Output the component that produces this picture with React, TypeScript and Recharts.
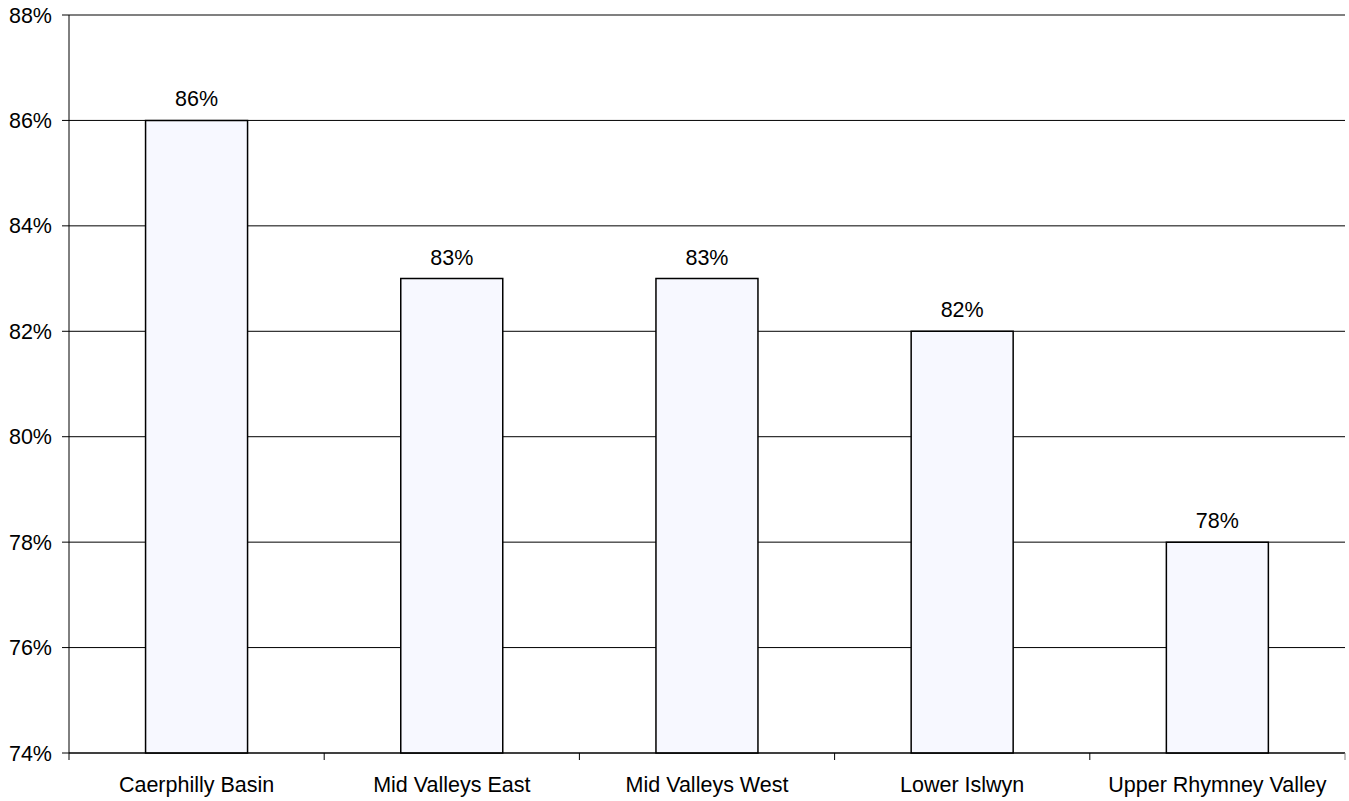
import { BarChart, Bar, CartesianGrid, XAxis, YAxis, LabelList, ReferenceLine } from 'recharts';

const areas = ['Caerphilly Basin', 'Mid Valleys East', 'Mid Valleys West', 'Lower Islwyn', 'Upper Rhymney Valley'];
const rates = [86, 83, 83, 82, 78];
const yTicks = [74, 76, 78, 80, 82, 84, 86, 88];

const data = areas.map((name, i) => ({ name, rate: rates[i] }));

const FONT = '"Liberation Sans", Arial, sans-serif';

function AreaTick(props: any) {
  const { x, y, payload, index, visibleTicksCount } = props;
  const half = payload?.offset ?? 0;
  const last = index === visibleTicksCount - 1;
  return (
    <g>
      <line x1={x - half} x2={x - half} y1={y} y2={y + 7} stroke="#000" />
      {last && <line x1={x + half} x2={x + half} y1={y} y2={y + 7} stroke="#808080" />}
      <text x={x} y={y + 39} textAnchor="middle" fontSize={21.5} fontFamily={FONT} fill="#000">
        {payload.value}
      </text>
    </g>
  );
}

export default function App() {
  return (
    <div style={{ width: 1349, height: 801, background: '#fff' }}>
      <style>{`body{margin:0}`}</style>
      <BarChart
        width={1349}
        height={801}
        data={data}
        margin={{ top: 15, right: 4, left: 0, bottom: 0 }}
        barCategoryGap="30%"
      >
        <CartesianGrid vertical={false} stroke="#000" />
        <XAxis
          dataKey="name"
          stroke="#000"
          tickLine={false}
          tickSize={0}
          tickMargin={0}
          height={48}
          interval={0}
          tick={<AreaTick />}
        />
        <YAxis
          domain={[74, 88]}
          ticks={yTicks}
          width={69}
          stroke="#000"
          tickSize={7}
          tickMargin={10}
          tickFormatter={(v) => `${v}%`}
          tick={{ fontSize: 21.5, fontFamily: FONT, fill: '#000' }}
          interval={0}
        />
        <YAxis yAxisId="right" orientation="right" width={0} domain={[74, 88]} tick={false} tickLine={false} stroke="#808080" />
        <ReferenceLine y={88} stroke="#808080" strokeWidth={2} />
        <Bar dataKey="rate" fill="#F7F8FF" stroke="#000" strokeWidth={1.5} isAnimationActive={false}>
          <LabelList
            dataKey="rate"
            position="top"
            offset={14}
            formatter={(v: any) => `${v}%`}
            style={{ fontSize: 21.5, fontFamily: FONT, fill: '#000' }}
          />
        </Bar>
      </BarChart>
    </div>
  );
}
